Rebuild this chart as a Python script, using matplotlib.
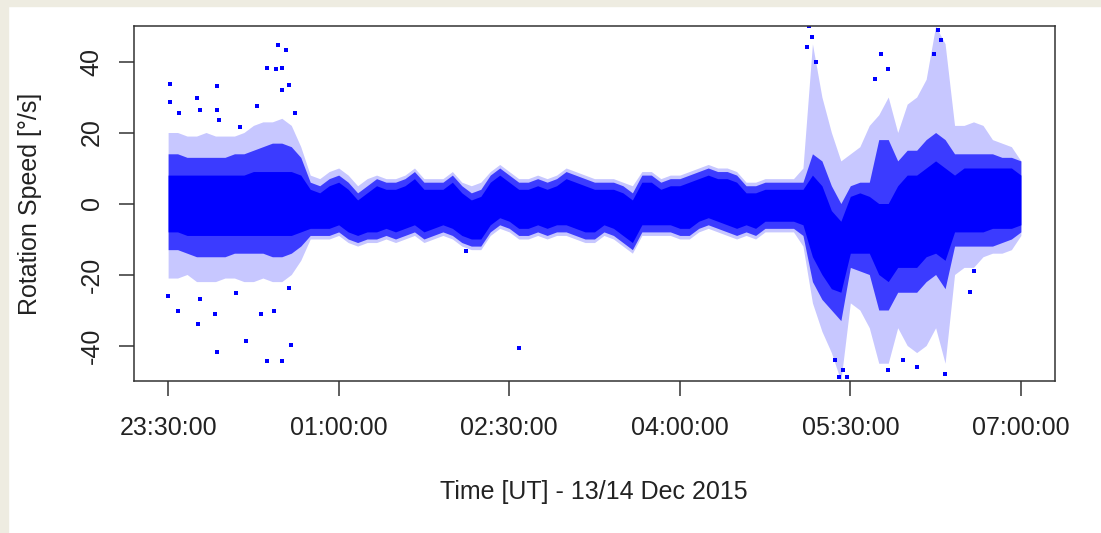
import numpy as np
import matplotlib.pyplot as plt
from matplotlib.patches import Rectangle

# minutes after 23:30 UT, one sample every 5 minutes (0 .. 450)
t_min = list(range(0, 451, 5))

# dense core of the cloud of points [deg/s]
core_hi = [8, 8, 8, 8, 8, 8, 8, 8, 8, 9, 9, 9, 9, 9, 8,
           4, 3, 5, 6, 4, 1, 3, 5, 4, 4, 5, 7, 4, 4, 4,
           6, 3, 1, 2, 6, 8, 6, 4, 4, 5, 4, 5, 7, 6, 5,
           4, 4, 4, 3, 1, 6, 6, 4, 5, 5, 6, 7, 8, 7, 7,
           6, 3, 3, 4, 4, 4, 4, 4, 8, 5, -2, -5, 2, 3, 2,
           0, 0, 5, 8, 8, 10, 12, 10, 8, 10, 10, 10, 10, 10, 10,
           8]
core_lo = [-8, -8, -9, -9, -9, -9, -9, -9, -9, -9, -9, -9, -9, -9, -8,
           -7, -7, -7, -6, -8, -9, -8, -8, -7, -8, -7, -6, -8, -7, -6,
           -7, -9, -10, -10, -6, -4, -5, -7, -7, -6, -7, -6, -6, -7, -8,
           -8, -6, -7, -9, -11, -6, -6, -6, -6, -7, -7, -5, -4, -5, -6,
           -7, -6, -7, -5, -5, -5, -5, -6, -15, -20, -24, -25, -14, -14, -14,
           -20, -22, -18, -18, -18, -15, -14, -16, -8, -8, -8, -8, -7, -7, -7,
           -6]

# less dense band around the core
band_hi = [14, 14, 13, 13, 13, 13, 13, 14, 14, 15, 16, 17, 17, 16, 13,
           6, 5, 7, 8, 6, 3, 5, 7, 6, 6, 7, 9, 6, 6, 6,
           8, 5, 3, 4, 8, 10, 8, 6, 6, 7, 6, 7, 9, 8, 7,
           6, 6, 6, 5, 3, 8, 8, 6, 7, 7, 8, 9, 10, 9, 9,
           8, 5, 5, 6, 6, 6, 6, 6, 14, 12, 5, 0, 5, 6, 6,
           18, 18, 12, 15, 15, 18, 20, 18, 14, 14, 14, 14, 14, 13, 13,
           12]
band_lo = [-13, -13, -14, -15, -15, -15, -15, -14, -14, -14, -14, -15, -15, -14, -12,
           -9, -9, -9, -8, -10, -11, -10, -10, -9, -10, -9, -8, -10, -9, -8,
           -9, -11, -12, -12, -8, -6, -7, -9, -9, -8, -9, -8, -8, -9, -10,
           -10, -8, -9, -11, -13, -8, -8, -8, -8, -9, -9, -7, -6, -7, -8,
           -9, -8, -9, -7, -7, -7, -7, -9, -22, -27, -30, -33, -18, -19, -20,
           -30, -30, -25, -25, -25, -22, -20, -24, -12, -12, -12, -12, -12, -11, -10,
           -8]

# outer envelope of the scattered points
sparse_hi = [20, 20, 19, 19, 20, 19, 19, 19, 20, 22, 23, 23, 24, 22, 16,
             8, 7, 9, 10, 8, 5, 7, 8, 7, 7, 8, 10, 7, 7, 7,
             9, 6, 5, 6, 9, 11, 9, 7, 7, 8, 7, 8, 10, 9, 8,
             7, 7, 7, 6, 5, 9, 9, 7, 8, 8, 9, 10, 11, 10, 10,
             9, 6, 6, 7, 7, 7, 7, 10, 45, 30, 20, 12, 14, 16, 22,
             25, 30, 20, 28, 30, 35, 50, 45, 22, 22, 23, 22, 18, 17, 16,
             12]
sparse_lo = [-21, -21, -20, -22, -22, -22, -21, -21, -22, -22, -21, -22, -22, -20, -16,
             -10, -10, -10, -9, -11, -12, -11, -11, -10, -11, -10, -9, -11, -10, -9,
             -10, -12, -13, -13, -9, -7, -8, -10, -10, -9, -10, -9, -9, -10, -11,
             -11, -9, -10, -12, -14, -9, -9, -9, -9, -10, -10, -8, -7, -8, -9,
             -10, -9, -10, -8, -8, -8, -8, -12, -28, -36, -42, -50, -28, -30, -35,
             -45, -45, -35, -40, -42, -40, -35, -45, -20, -18, -18, -15, -14, -14, -13,
             -9]

# isolated points far from the cloud
out_t = [58, 62, 52, 57, 60, 1, 26, 15, 64, 60, 1, 17, 26, 5.5, 47, 67, 27, 38,
         0, 5, 16, 25, 41, 26, 52, 60, 65, 49, 56, 36, 17, 64,
         185, 157,
         338, 340, 337, 342, 406, 408, 404, 376, 380, 373,
         354, 356, 358, 352, 380, 395, 410, 388, 423, 425]
out_v = [44.7, 43.1, 38.1, 37.8, 38.3, 33.8, 33.0, 29.6, 33.4, 32.0, 28.7, 26.3, 26.3, 25.4, 27.4, 25.4, 23.5, 21.6,
         -26, -30.2, -34, -31.2, -38.8, -41.8, -44.4, -44.4, -39.9, -31.2, -30.2, -25.1, -27, -23.7,
         -40.7, -13.3,
         50, 47, 44, 40, 49, 46, 42, 42, 38, 35,
         -49, -47, -49, -44, -47, -46, -48, -44, -25, -19]

tick_min = [0, 90, 180, 270, 360, 450]
tick_lab = ['23:30:00', '01:00:00', '02:30:00', '04:00:00', '05:30:00', '07:00:00']

plt.rcParams['font.family'] = ['Liberation Sans', 'DejaVu Sans']
blue = '#0000ff'
ink = '#222222'

fig = plt.figure(figsize=(11.01, 5.33), dpi=100)
fig.patch.set_facecolor('white')
# beige frame on the left and top of the screenshot
fig.patches.append(Rectangle((0, 0), 8 / 1101, 1, transform=fig.transFigure,
                             color='#eeece1', zorder=0))
fig.patches.append(Rectangle((0, 1 - 6 / 533), 1, 6 / 533, transform=fig.transFigure,
                             color='#eeece1', zorder=0))

ax = fig.add_axes([134 / 1101, 1 - 381 / 533, 921 / 1101, 355 / 533])

ax.fill_between(t_min, sparse_lo, sparse_hi, color=blue, alpha=0.22, lw=0)
ax.fill_between(t_min, band_lo, band_hi, color=blue, alpha=0.7, lw=0)
ax.fill_between(t_min, core_lo, core_hi, color=blue, alpha=1.0, lw=0)
ax.plot(out_t, out_v, ls='none', marker='s', ms=2.4, mew=0, color=blue)

ax.set_xlim(-18, 468)
ax.set_ylim(-50, 50)
ax.set_xticks(tick_min)
ax.set_xticklabels(tick_lab)
ax.set_yticks([-40, -20, 0, 20, 40])
ax.set_yticklabels(['-40', '-20', '0', '20', '40'], rotation=90, va='center')

for s in ax.spines.values():
    s.set_linewidth(1.1)
    s.set_color('#333333')
ax.tick_params(axis='both', length=10.8, width=1.1, color='#333333',
               labelsize=18, labelcolor=ink)
ax.tick_params(axis='x', pad=14.5)
ax.tick_params(axis='y', pad=11)

fig.text(594 / 1101, 1 - 492 / 533, 'Time [UT] - 13/14 Dec 2015', ha='center', va='center',
         fontsize=18, color=ink)
fig.text(30 / 1101, 1 - 204 / 533, 'Rotation Speed [°/s]', ha='center', va='center',
         rotation=90, fontsize=18, color=ink)

fig.savefig('out.png', dpi=100)
